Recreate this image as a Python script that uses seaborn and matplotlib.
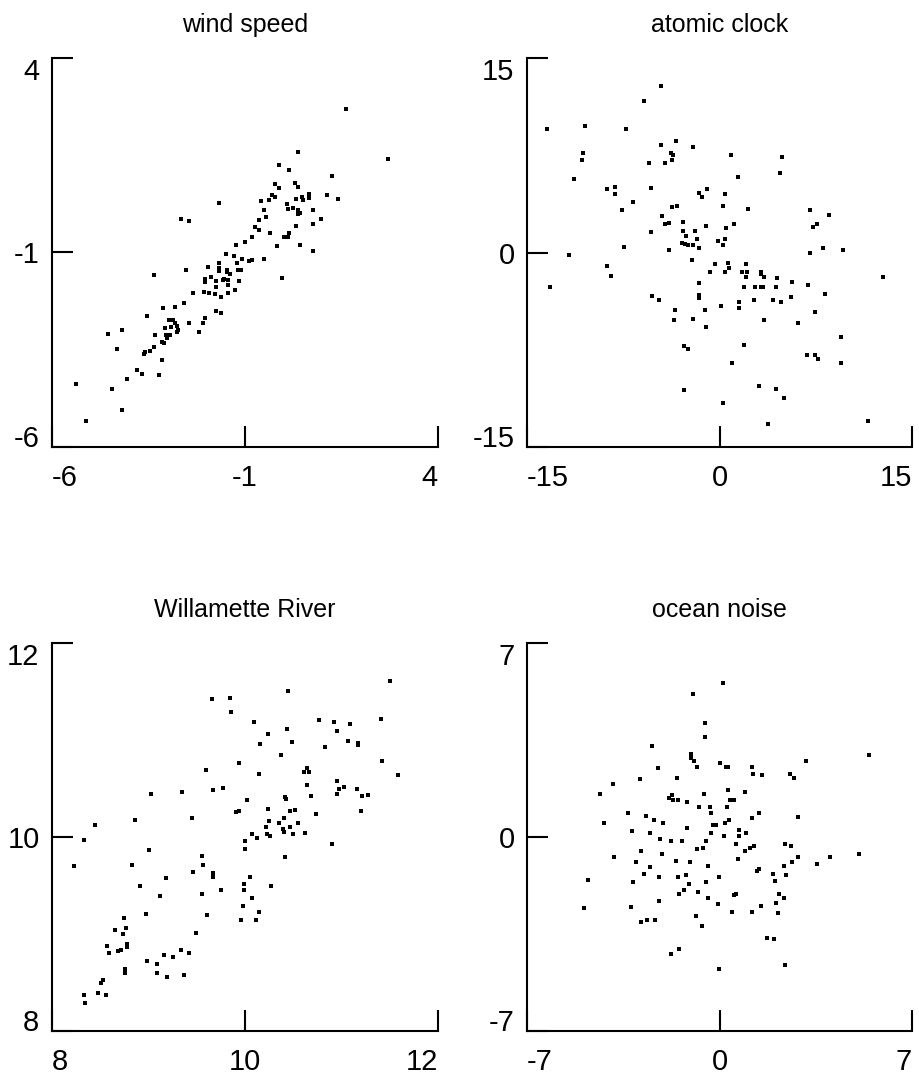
import matplotlib
matplotlib.use("Agg")
import matplotlib.pyplot as plt
import seaborn as sns

# ---------------- data ----------------
titles = ["wind speed", "atomic clock", "Willamette River", "ocean noise"]

wind_x = [-1.68, -2.66, -2.45, -1.24, -1.00, -1.50, -1.29, -1.08, -1.68, -1.21,
          -1.97, -2.53, -1.68, -1.68, -1.47, -1.47, -1.39, -1.18, -1.11, -3.37,
          -1.87, -2.03, -2.03, -1.76, -1.58, -1.55, -1.45, -1.16, -1.45, -1.76,
          -1.26, -2.05, -1.92, -1.79, -1.45, -1.61, -2.34, -2.58, -2.82, -3.13,
          -1.74, -1.63, -3.53, -2.03, -2.97, -2.87, -2.82, -2.08, -2.45, -2.76,
          -2.92, -3.08, -2.74, -2.76, -4.18, -4.55, -2.18, -3.34, -3.05, -2.95,
          -3.03, -3.16, -3.11, -3.37, -3.47, -3.58, -3.61, -4.32, -3.16, -3.79,
          -3.66, -3.24, -4.05, -5.37, -4.45, -4.18, -5.11,
          1.61, 2.71, 0.37, -0.13, 0.13, 1.26, -0.21, -0.11, 0.29, 0.37,
          -0.29, -0.21, -0.58, -0.39, 0.32, 0.47, 0.50, 0.66, 0.66, 1.13,
          1.42, 0.08, 0.11, 0.24, 0.37, 0.76, 0.37, 0.42, -0.50, -0.45,
          -0.63, -0.74, -0.63, 0.97, 0.76, 0.32, -0.34, -0.82, 0.13, 0.11,
          0.00, -0.16, 0.42, 0.76, -0.50, -0.82, -0.89, -0.03]
wind_y = [0.27, -0.15, -0.20, -0.82, -0.74, -1.05, -1.10, -1.16, -1.26, -1.26,
          -1.36, -1.44, -1.41, -1.47, -1.44, -1.49, -1.54, -1.44, -1.44, -1.57,
          -1.62, -1.67, -1.75, -1.73, -1.70, -1.67, -1.70, -1.73, -1.83, -1.88,
          -1.96, -2.01, -2.04, -2.06, -2.04, -2.14, -2.04, -2.30, -2.40, -2.42,
          -2.50, -2.55, -2.63, -2.68, -2.74, -2.74, -2.81, -2.81, -2.81, -2.89,
          -2.92, -2.94, -2.99, -3.05, -2.99, -3.10, -3.05, -3.12, -3.12, -3.12,
          -3.20, -3.31, -3.33, -3.44, -3.54, -3.56, -3.62, -3.49, -3.77, -4.01,
          -4.13, -4.16, -4.26, -4.39, -4.52, -5.04, -5.33,
          2.70, 1.41, 1.59, 1.25, 1.12, 0.97, 0.76, 0.66, 0.79, 0.68,
          0.48, 0.42, 0.32, 0.35, 0.37, 0.42, 0.35, 0.40, 0.50, 0.48,
          0.37, 0.24, 0.11, 0.14, 0.09, 0.09, -0.02, 0.01, 0.09, -0.09,
          -0.17, -0.35, -0.43, -0.15, -0.27, -0.33, -0.51, -0.61, -0.51, -0.59,
          -0.61, -0.84, -0.82, -0.97, -1.16, -1.18, -1.23, -1.65]

clock_x = [-4.58, -5.92, -13.42, -10.50, -7.26, -4.58, -3.39, -2.05, -3.79, -3.63,
           -3.71, -4.26, -5.53, -10.66, -10.74, -11.37, -8.76, -8.13, -8.13, -5.37,
           -6.71, -7.58, -3.71, -3.32, -4.50, -4.26, -3.95, -5.37, -2.84, -2.84,
           -2.61, -1.89, -1.74, -2.92, -2.68, -2.45, -2.05, -1.58, -7.42, -3.95,
           -11.76, -2.13, -1.58, -1.34, -0.95, 0.39, 0.24, -1.03, 0.47, -0.08,
           0.24, 0.39, -8.76, -8.45, -13.18, -0.32, -0.71, 0.39, -1.58, -1.58,
           -1.58, 0.08, -5.29, -4.74, -3.47, -3.55, -1.11, -2.05, -1.03, -2.76,
           -2.45, -2.76, 0.24, 0.87, 4.89, 4.74, 1.42, 2.21, 7.03, 8.53,
           7.26, 7.58, 1.11, 7.03, 8.05, 9.63, 0.63, 0.71, 2.05, 1.74,
           2.13, 3.24, 3.24, 3.47, 2.05, 4.50, 5.68, 6.87, 12.71, 1.89,
           2.76, 3.24, 3.39, 4.42, 5.61, 8.21, 2.68, 4.18, 4.82, 1.50,
           1.50, 7.42, 3.47, 6.08, 9.47, 1.89, 0.95, 6.79, 7.42, 7.66,
           9.47, 3.08, 4.42, 5.05, 3.79, 11.61]
clock_y = [12.82, 11.66, 9.56, 9.72, 9.56, 8.32, 8.63, 8.16, 7.69, 7.54,
           7.15, 6.92, 6.92, 7.69, 7.15, 5.67, 4.90, 5.05, 4.51, 4.97,
           3.89, 3.26, 3.50, 3.58, 2.80, 2.18, 2.25, 1.55, 2.33, 1.63,
           1.24, 1.63, 1.01, 0.70, 0.62, 0.54, 0.54, 0.31, 0.39, 0.23,
           -0.16, -0.54, 4.59, 4.27, 4.90, 4.51, 3.58, 2.02, 1.87, 0.85,
           0.54, 1.01, -1.01, -1.79, -2.64, -0.85, -1.48, -1.48, -2.33, -3.26,
           -3.50, -4.12, -3.34, -3.65, -4.43, -5.21, -4.43, -5.13, -5.75, -7.23,
           -7.46, -10.57, -11.58, 7.54, 7.38, 6.14, 5.83, 3.34, 3.26, 2.88,
           1.94, 2.18, 2.18, 0.00, 0.31, 0.16, -0.78, -1.17, -0.85, -1.48,
           -1.48, -1.48, -1.63, -1.87, -1.87, -1.94, -2.25, -2.49, -1.87, -2.64,
           -2.64, -2.64, -2.64, -2.64, -3.42, -3.19, -3.65, -3.65, -3.81, -3.81,
           -4.27, -4.59, -5.21, -5.44, -6.53, -7.15, -8.55, -7.93, -7.93, -8.24,
           -8.55, -10.26, -10.49, -11.19, -13.21, -12.98]

river_x = [11.50, 10.45, 9.66, 9.84, 9.85, 10.09, 10.24, 10.44, 10.16, 10.49,
           10.37, 10.77, 10.92, 11.09, 10.95, 10.83, 11.07, 11.17, 11.17, 11.41,
           11.42, 11.59, 9.94, 9.60, 10.15, 10.64, 10.61, 10.66, 10.64, 10.95,
           10.97, 11.03, 10.95, 11.16, 11.21, 11.27, 11.20, 10.68, 10.41, 10.42,
           9.77, 9.67, 9.35, 9.03, 10.02, 10.24, 9.94, 9.91, 10.47, 10.52,
           10.74, 10.40, 9.45, 8.86, 8.45, 8.33, 10.25, 10.35, 10.55, 10.22,
           10.47, 10.39, 10.40, 10.07, 10.12, 10.23, 10.26, 10.50, 10.62, 10.90,
           10.00, 10.00, 9.00, 9.55, 10.41, 8.23, 8.83, 9.46, 9.56, 9.67,
           9.67, 9.18, 10.05, 9.99, 9.99, 10.07, 10.27, 9.75, 9.55, 8.91,
           9.12, 9.98, 10.14, 9.96, 10.11, 9.61, 8.97, 8.75, 8.65, 8.77,
           8.74, 9.49, 8.57, 8.78, 8.78, 8.59, 8.68, 8.72, 9.34, 9.42,
           9.16, 9.25, 8.98, 9.09, 8.76, 8.76, 9.09, 9.19, 9.37, 8.53,
           8.51, 8.33, 8.48, 8.56, 8.34]
river_y = [11.61, 11.51, 11.42, 11.43, 11.29, 11.19, 11.06, 11.11, 10.96, 10.98,
           10.85, 11.21, 11.19, 11.17, 11.09, 10.93, 10.99, 10.97, 10.95, 11.22,
           10.78, 10.64, 10.76, 10.69, 10.65, 10.71, 10.67, 10.67, 10.54, 10.58,
           10.49, 10.52, 10.44, 10.49, 10.42, 10.43, 10.27, 10.42, 10.41, 10.39,
           10.51, 10.48, 10.46, 10.44, 10.38, 10.29, 10.27, 10.26, 10.27, 10.28,
           10.24, 10.20, 10.20, 10.18, 10.12, 9.97, 10.17, 10.14, 10.14, 10.10,
           10.10, 10.08, 10.05, 10.03, 9.99, 10.03, 10.01, 10.03, 10.04, 9.93,
           9.96, 9.88, 9.87, 9.80, 9.79, 9.70, 9.71, 9.64, 9.71, 9.63,
           9.59, 9.58, 9.59, 9.52, 9.45, 9.37, 9.49, 9.45, 9.41, 9.49,
           9.39, 9.29, 9.23, 9.14, 9.14, 9.20, 9.21, 9.16, 9.04, 9.06,
           9.00, 9.01, 8.88, 8.90, 8.87, 8.80, 8.82, 8.83, 8.83, 8.80,
           8.78, 8.76, 8.72, 8.69, 8.64, 8.60, 8.60, 8.56, 8.58, 8.53,
           8.50, 8.37, 8.39, 8.37, 8.29]

ocean_x = [0.14, -0.97, -0.53, -0.53, -2.44, -1.03, -1.03, -0.93, -0.82, 0.01,
           0.22, 0.32, 1.18, 1.20, 1.54, 2.55, 2.72, 3.16, 5.45, -2.22,
           -1.56, -2.88, -3.86, -4.36, -0.58, 0.32, 0.93, -1.72, -1.85, -1.68,
           -1.51, -1.17, 0.39, 0.53, -0.74, -0.33, 0.28, -0.31, -3.34, -2.68,
           -2.37, -2.05, -4.19, 1.43, 1.18, 2.84, -0.22, -0.12, 0.20, 0.36,
           -1.17, 0.71, -3.19, -2.53, -0.31, 0.16, 0.71, 0.95, -2.18, -1.77,
           -1.37, -0.50, 0.60, 1.12, 1.26, 2.39, 2.60, -0.82, -0.60, -2.85,
           -3.83, -2.10, 0.92, 0.69, -3.02, -2.53, -1.58, -1.07, -0.41, 2.87,
           2.63, 2.36, 3.53, 4.02, 5.07, -4.80, -3.13, -2.74, -2.21, -1.51,
           -1.23, -0.01, 1.36, 1.43, 1.96, 2.42, 2.00, -1.11, -0.49, -1.28,
           -1.47, -0.80, 0.52, 0.59, 2.17, 2.35, -0.41, -2.21, -0.06, 1.50,
           2.07, -4.93, -3.21, 0.44, 1.18, 2.11, -0.84, -0.65, -2.84, -2.64,
           -2.36, 1.73, 1.98, -1.46, -1.76, -0.01, 2.38]
ocean_y = [5.55, 5.16, 4.11, 3.60, 3.27, 2.98, 2.84, 2.73, 2.51, 2.66,
           2.51, 2.51, 2.51, 2.26, 2.22, 2.26, 2.12, 2.73, 2.95, 2.48,
           2.12, 2.08, 1.90, 1.54, 1.54, 1.68, 1.61, 1.50, 1.39, 1.32,
           1.32, 1.25, 1.32, 1.32, 1.07, 1.07, 1.07, 0.85, 0.85, 0.74,
           0.63, 0.49, 0.49, 0.85, 0.67, 0.71, 0.45, 0.42, 0.52, 0.60,
           0.34, 0.27, 0.23, 0.13, 0.13, 0.05, 0.02, 0.13, -0.09, -0.16,
           -0.16, -0.16, -0.27, -0.38, -0.34, -0.27, -0.34, -0.45, -0.38, -0.49,
           -0.71, -0.60, -0.52, -0.81, -0.89, -1.07, -0.85, -0.89, -1.03, -0.71,
           -0.92, -1.03, -0.96, -0.71, -0.63, -1.54, -1.61, -1.32, -1.43, -1.43,
           -1.36, -1.43, -1.21, -1.14, -1.32, -1.36, -1.57, -1.68, -1.61, -1.90,
           -2.04, -1.97, -2.08, -2.04, -2.04, -2.19, -2.19, -2.30, -2.41, -2.48,
           -2.37, -2.55, -2.51, -2.70, -2.70, -2.73, -2.84, -3.20, -3.06, -2.98,
           -2.98, -3.64, -3.67, -4.03, -4.21, -4.76, -4.61]

limits = [(-6, 4), (-15, 15), (8, 12), (-7, 7)]
tick_sets = [[-6, -1, 4], [-15, 0, 15], [8, 10, 12], [-7, 0, 7]]
panels = [(wind_x, wind_y), (clock_x, clock_y), (river_x, river_y), (ocean_x, ocean_y)]

# ---------------- style ----------------
sns.set_style("ticks")
plt.rcParams["font.family"] = ["Liberation Sans", "DejaVu Sans"]

W, H = 919, 1087
fig = plt.figure(figsize=(W / 100, H / 100), dpi=100)

# axes boxes in pixels: left, top, width, height
boxes = [(52, 58, 386, 389), (527, 58, 385, 389),
         (52, 643, 386, 388), (527, 643, 385, 388)]

for i, ((xs, ys), (l, t, w, h)) in enumerate(zip(panels, boxes)):
    ax = fig.add_axes([l / W, (H - t - h) / H, w / W, h / H])
    sns.scatterplot(x=xs, y=ys, ax=ax, marker="s", s=5.5, color="black",
                    linewidth=0, clip_on=False)
    lo, hi = limits[i]
    ax.set_xlim(lo, hi)
    ax.set_ylim(lo, hi)
    ax.set_xticks(tick_sets[i])
    ax.set_yticks(tick_sets[i])
    ax.set_xticklabels([str(v) for v in tick_sets[i]])
    ax.set_yticklabels([str(v) for v in tick_sets[i]])
    for s in ["top", "right"]:
        ax.spines[s].set_visible(False)
    for s in ["left", "bottom"]:
        ax.spines[s].set_linewidth(1.5)
        ax.spines[s].set_color("black")
    ax.tick_params(axis="both", direction="in", length=15, width=1.5,
                   color="black", labelsize=21, labelcolor="black")
    ax.tick_params(axis="y", pad=9)
    ax.tick_params(axis="x", pad=12)
    # flush alignment of the end labels
    xl = ax.get_xticklabels()
    xl[0].set_horizontalalignment("left")
    xl[-1].set_horizontalalignment("right")
    yl = ax.get_yticklabels()
    yl[0].set_verticalalignment("baseline")
    yl[-1].set_verticalalignment("top")
    ax.set_title(titles[i], fontsize=18, pad=19, color="black")
    ax.set_facecolor("white")

fig.savefig("out.png", dpi=100, facecolor="white")
